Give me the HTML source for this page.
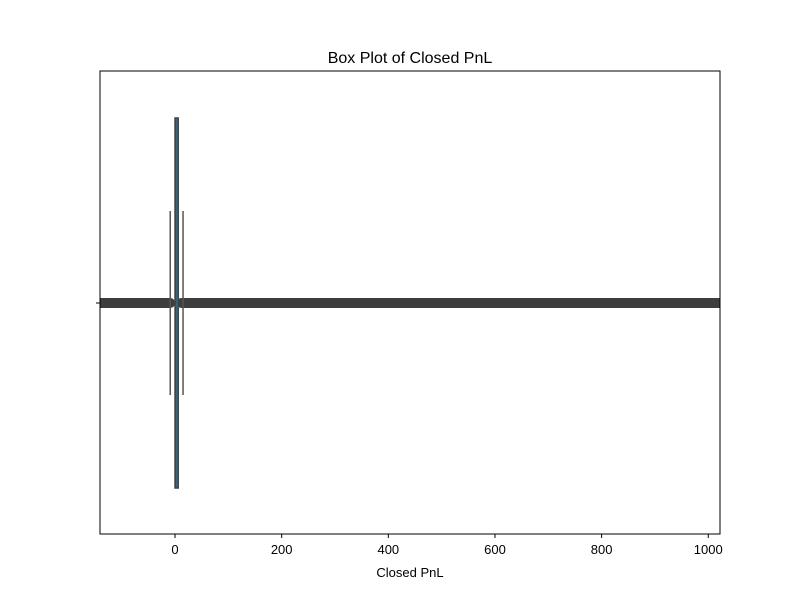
<!DOCTYPE html>
<html><head><meta charset="utf-8"><style>
body{margin:0;background:#fff}
svg text{font-family:"Liberation Sans",sans-serif;fill:#000}
</style></head><body>
<svg width="800" height="600">
<text x="410" y="63" font-size="16" text-anchor="middle">Box Plot of Closed PnL</text>
<defs><clipPath id="c"><rect x="100" y="71" width="620" height="463"/></clipPath></defs>
<g id="marks" clip-path="url(#c)"></g>
<rect x="100" y="71" width="620" height="463" fill="none" stroke="#000" stroke-width="1"/>
<line x1="96" y1="303" x2="100" y2="303" stroke="#000"/>
<g id="xticks"></g>
<text x="410" y="577" font-size="13" text-anchor="middle">Closed PnL</text>
</svg>
<script>
const xDomain=[-140.7,1022];
const tickValues=[0,200,400,600,800,1000];
const tickLabels=["0","200","400","600","800","1000"];
const q1=[0];const q3=[6];const median=[1.5];
const whiskerLow=[-9];const whiskerHigh=[15];
const outliers=[-145,-130,-115,-100,-85,-70,-55,-40,-25,-17,-9,12,20,30,45,60,75,90,105,120,135,150,165,180,195,210,225,240,255,270,285,300,315,330,345,360,375,390,405,420,435,450,465,480,495,510,525,540,555,570,585,600,615,630,645,660,675,690,705,720,735,750,765,780,795,810,825,840,855,870,885,900,915,930,945,960,975,990,1005,1020,1030];
const NS="http://www.w3.org/2000/svg";
const X=v=>100+(v-xDomain[0])/(xDomain[1]-xDomain[0])*620;
const yc=303,boxTop=118,boxBot=488,capTop=211,capBot=395;
const g=document.getElementById('marks');
function mk(t,a){const e=document.createElementNS(NS,t);for(const k in a)e.setAttribute(k,a[k]);return e;}
for(let i=0;i+1<outliers.length;i++){
 if(outliers[i+1]-outliers[i]<=16){
  const r=mk('rect',{x:X(outliers[i]),y:yc-5,width:X(outliers[i+1])-X(outliers[i]),height:10,fill:'#3d3d3d'});
  
  
  g.appendChild(r);
 }
}
outliers.forEach(v=>{
 const c=mk('circle',{cx:X(v),cy:yc,r:5,fill:'#3d3d3d'});
 
 
 g.appendChild(c);
});
const wl=mk('line',{x1:X(whiskerLow[0]),x2:X(whiskerLow[0]),y1:capTop,y2:capBot,stroke:'#555','stroke-width':1.5});


g.appendChild(wl);
const wh=mk('line',{x1:X(whiskerHigh[0]),x2:X(whiskerHigh[0]),y1:capTop,y2:capBot,stroke:'#555','stroke-width':1.5});


g.appendChild(wh);
const bx=mk('rect',{x:X(q1[0]),y:boxTop,width:Math.max(2,X(q3[0])-X(q1[0])),height:boxBot-boxTop,fill:'#3274a1',stroke:'#444','stroke-width':1.5});


g.appendChild(bx);
const md=mk('line',{x1:X(median[0]),x2:X(median[0]),y1:boxTop,y2:boxBot,stroke:'#444','stroke-width':1});


g.appendChild(md);
const tg=document.getElementById('xticks');
tickValues.forEach((v,i)=>{
 const l=mk('line',{x1:X(v),x2:X(v),y1:534,y2:538,stroke:'#000'});
 
 
 tg.appendChild(l);
 const t=mk('text',{x:X(v),y:554,'font-size':13,'text-anchor':'middle'});
 t.textContent=tickLabels[i];
 
 
 tg.appendChild(t);
});
</script>
</body></html>
